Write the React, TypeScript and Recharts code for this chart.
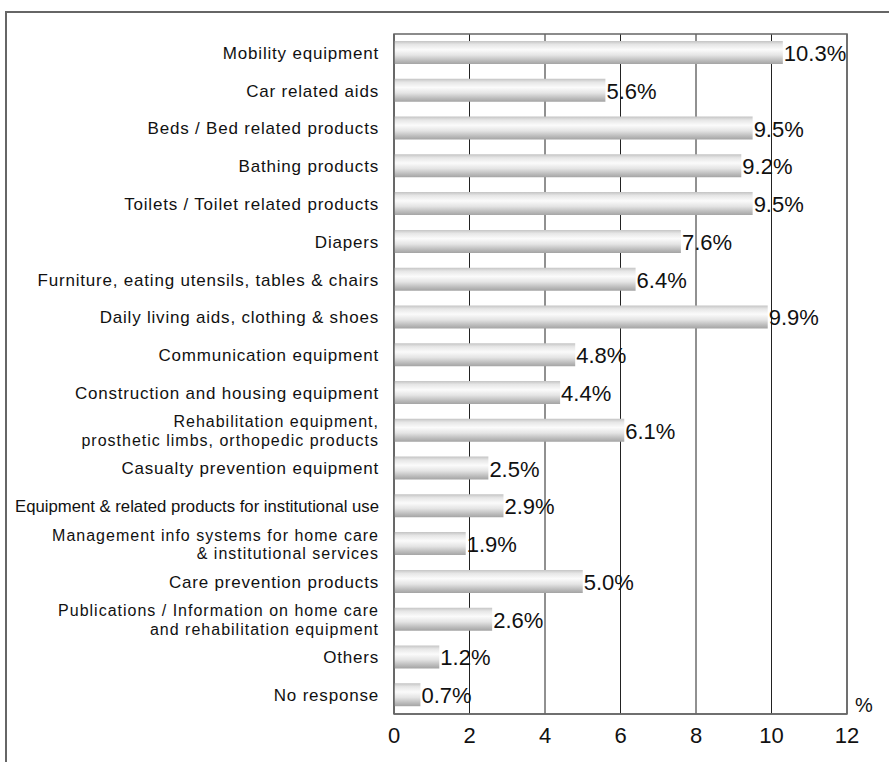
import { BarChart, Bar, XAxis, YAxis, CartesianGrid, ReferenceArea, LabelList } from "recharts";

const categories = [
  "Mobility equipment",
  "Car related aids",
  "Beds / Bed related products",
  "Bathing products",
  "Toilets / Toilet related products",
  "Diapers",
  "Furniture, eating utensils, tables & chairs",
  "Daily living aids, clothing & shoes",
  "Communication equipment",
  "Construction and housing equipment",
  "Rehabilitation equipment,\nprosthetic limbs, orthopedic products",
  "Casualty prevention equipment",
  "Equipment & related products for institutional use",
  "Management info systems for home care\n& institutional services",
  "Care prevention products",
  "Publications / Information on home care\nand rehabilitation equipment",
  "Others",
  "No response",
];

const shares = [10.3, 5.6, 9.5, 9.2, 9.5, 7.6, 6.4, 9.9, 4.8, 4.4, 6.1, 2.5, 2.9, 1.9, 5.0, 2.6, 1.2, 0.7];

const xTicks = [0, 2, 4, 6, 8, 10, 12];

// labels squeezed to fit the axis width in the original
const condensed = ["Equipment & related products for institutional use"];

const data = categories.map((name, i) => ({ name, value: shares[i] }));

const LABEL_FONT = "'Liberation Sans', Arial, sans-serif";
const VALUE_FONT = "'Liberation Sans', Arial, sans-serif";

function CategoryTick({ x, y, payload }: { x?: number; y?: number; payload?: { value: string } }) {
  const text = payload?.value ?? "";
  const lines = text.split("\n");
  const multi = lines.length > 1;
  const lh = 18.5;
  const size = multi ? 16 : 17;
  // shift so the block is centred on the band
  const first = (y ?? 0) - ((lines.length - 1) * lh) / 2 + 6;
  const squeeze = condensed.includes(text);
  return (
    <text
      x={x}
      y={first}
      textAnchor="end"
      fontSize={size}
      letterSpacing={squeeze ? 0 : multi ? 1 : 0.8}
      fontFamily={LABEL_FONT}
      fill="#111"
      {...(squeeze ? { textLength: 364, lengthAdjust: "spacingAndGlyphs" } : {})}
    >
      {lines.map((line, i) => (
        <tspan key={i} x={x} y={first + i * lh}>
          {line}
        </tspan>
      ))}
    </text>
  );
}

function ValueLabel(props: { x?: number; y?: number; width?: number; height?: number; value?: number }) {
  const { x = 0, y = 0, width = 0, height = 0, value = 0 } = props;
  return (
    <text x={x + width + 1} y={y + height / 2 + 8.5} fontSize={22} fontFamily={VALUE_FONT} fill="#111">
      {value.toFixed(1)}%
    </text>
  );
}

export default function App() {
  return (
    <div style={{ position: "absolute", left: 0, top: 0, width: 889, height: 762, background: "#fff" }}>
      <div
        style={{
          position: "absolute",
          left: 5,
          top: 11,
          right: 0,
          bottom: 0,
          borderTop: "2px solid #666",
          borderLeft: "2px solid #666",
        }}
      />
      <BarChart
        width={889}
        height={762}
        data={data}
        layout="vertical"
        margin={{ top: 34, right: 42, bottom: 18, left: 0 }}
        barSize={23}
        style={{ position: "absolute", left: 0, top: 0 }}
      >
        <defs>
          <linearGradient id="barShade" x1="0" y1="0" x2="0" y2="1">
            <stop offset="0%" stopColor="#c4c4c4" />
            <stop offset="15%" stopColor="#e6e6e6" />
            <stop offset="38%" stopColor="#fbfbfb" />
            <stop offset="62%" stopColor="#e4e4e4" />
            <stop offset="85%" stopColor="#bcbcbc" />
            <stop offset="100%" stopColor="#a4a4a4" />
          </linearGradient>
        </defs>
        <CartesianGrid horizontal={false} stroke="#222" strokeWidth={1} />
        <XAxis
          type="number"
          domain={[0, 12]}
          ticks={xTicks}
          tickLine={false}
          axisLine={{ stroke: "#666", strokeWidth: 1.5 }}
          tick={{ fontSize: 22, fontFamily: VALUE_FONT, fill: "#111" }}
          tickMargin={7}
          height={30}
          label={{ value: "%", position: "right", dx: 3, dy: -24, fontSize: 20, fontFamily: VALUE_FONT, fill: "#111" }}
        />
        <YAxis
          type="category"
          dataKey="name"
          width={394}
          tickLine={false}
          tickSize={0}
          tickMargin={15}
          axisLine={{ stroke: "#666", strokeWidth: 1.5 }}
          tick={<CategoryTick />}
          interval={0}
        />
        <ReferenceArea x1={0} x2={12} fill="none" fillOpacity={0} stroke="#666" strokeWidth={1.5} />
        <Bar dataKey="value" fill="url(#barShade)" isAnimationActive={false}>
          <LabelList dataKey="value" content={<ValueLabel />} />
        </Bar>
      </BarChart>
    </div>
  );
}
